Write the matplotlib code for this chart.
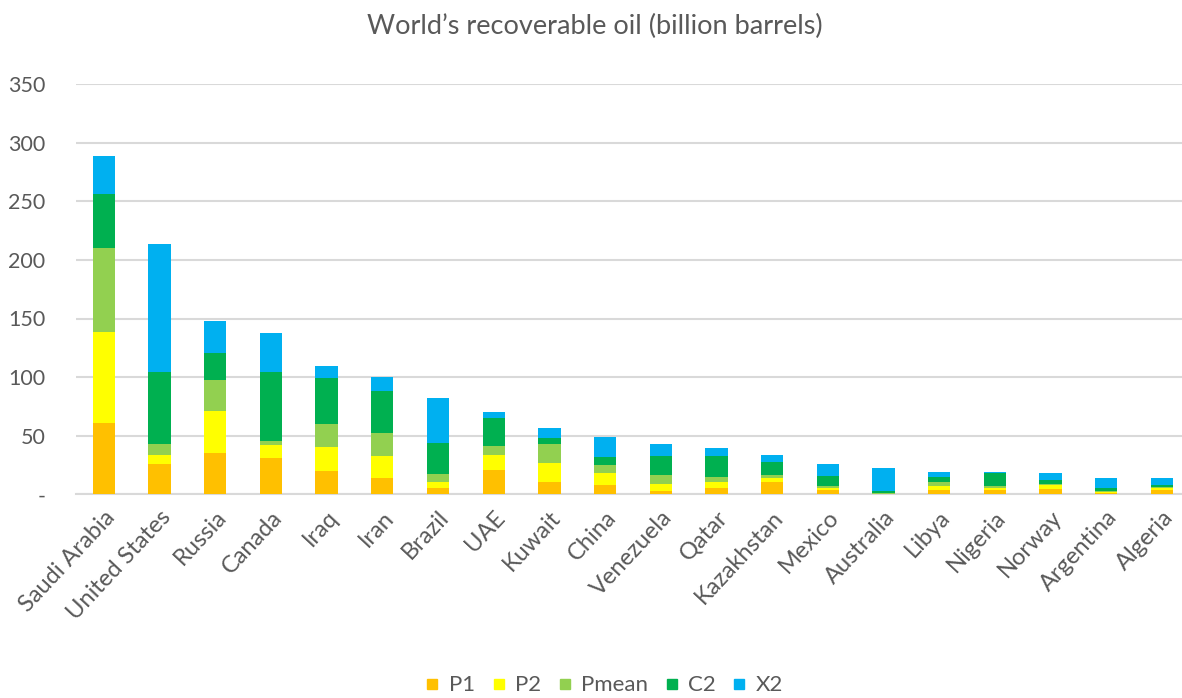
import matplotlib
matplotlib.use("Agg")
import matplotlib.pyplot as plt
from matplotlib.lines import Line2D
import numpy as np

countries = ["Saudi Arabia", "United States", "Russia", "Canada", "Iraq", "Iran",
             "Brazil", "UAE", "Kuwait", "China", "Venezuela", "Qatar", "Kazakhstan",
             "Mexico", "Australia", "Libya", "Nigeria", "Norway", "Argentina", "Algeria"]
p1    = [61.1, 26.0, 35.0, 31.3, 19.9, 13.9, 5.8, 20.9, 10.1, 8.1, 3.0, 5.6, 10.5, 3.5, 0.3, 3.8, 3.8, 4.9, 1.5, 3.4]
p2    = [77.1, 7.4, 36.1, 10.8, 20.2, 18.8, 4.3, 12.8, 16.8, 10.2, 5.9, 4.6, 3.4, 2.3, 0.2, 2.9, 2.0, 2.9, 0.6, 2.0]
pmean = [71.7, 9.6, 26.7, 3.4, 19.9, 19.6, 6.8, 7.7, 16.2, 7.1, 7.5, 4.3, 2.3, 1.7, 0.3, 3.7, 1.7, 1.1, 0.5, 0.8]
c2    = [46.3, 61.2, 23.0, 59.1, 39.0, 36.1, 26.7, 24.1, 5.1, 6.6, 16.2, 18.2, 11.3, 8.2, 1.8, 4.5, 11.1, 3.6, 2.9, 1.7]
x2    = [32.4, 109.5, 27.3, 32.8, 10.2, 12.0, 38.7, 4.6, 8.5, 17.3, 10.5, 6.5, 6.3, 10.2, 19.6, 4.5, 0.8, 5.7, 8.4, 5.9]
series_names = ["P1", "P2", "Pmean", "C2", "X2"]
colors = ["#FFC000", "#FFFF00", "#92D050", "#00B050", "#00B0F0"]
yticks = [0, 50, 100, 150, 200, 250, 300, 350]
ytick_labels = ["-", "50", "100", "150", "200", "250", "300", "350"]

plt.rcParams['font.family'] = ['Lato', 'DejaVu Sans']
text_color = "#595959"

fig = plt.figure(figsize=(11.82, 6.98), dpi=100)
ax = fig.add_axes([76/1182, 1 - 494.3/698, 1 - 76/1182, (494.3 - 84.1)/698])

x = np.arange(len(countries))
bottom = np.zeros(len(countries))
for name, vals, col in zip(series_names, [p1, p2, pmean, c2, x2], colors):
    vals = np.array(vals)
    ax.bar(x, vals, width=0.4, bottom=bottom, color=col, label=name, zorder=3)
    bottom += vals

ax.set_xlim(-0.5, 19.36)
ax.set_ylim(0, 350)
ax.set_yticks(yticks)
ax.set_yticklabels(ytick_labels, fontsize=15.5, color=text_color)
ax.yaxis.grid(True, color="#d9d9d9", linewidth=1.5, zorder=0)
ax.set_axisbelow(True)
for s in ["top", "right", "left"]:
    ax.spines[s].set_visible(False)
ax.spines["bottom"].set_color("#d9d9d9")
ax.spines["bottom"].set_linewidth(1.5)
ax.tick_params(axis="both", length=0, pad=9)
ax.tick_params(axis="y", pad=22)

ax.set_xticks(x)
ax.set_xticklabels(countries, rotation=47, ha="right", rotation_mode="anchor",
                   fontsize=17, color=text_color)

fig.text(0.503, 0.962, "World\u2019s recoverable oil (billion barrels)", ha="center", va="center",
         fontsize=19.5, color=text_color)

handles = [Line2D([], [], marker="s", markersize=7, color=c, linestyle="None") for c in colors]
fig.legend(handles, series_names, loc="center", bbox_to_anchor=(0.512, 0.018), ncol=5,
           frameon=False, fontsize=16, handlelength=0.5,
           handletextpad=0.5, columnspacing=0.8, labelcolor=text_color)

fig.savefig("out.png", dpi=100)
